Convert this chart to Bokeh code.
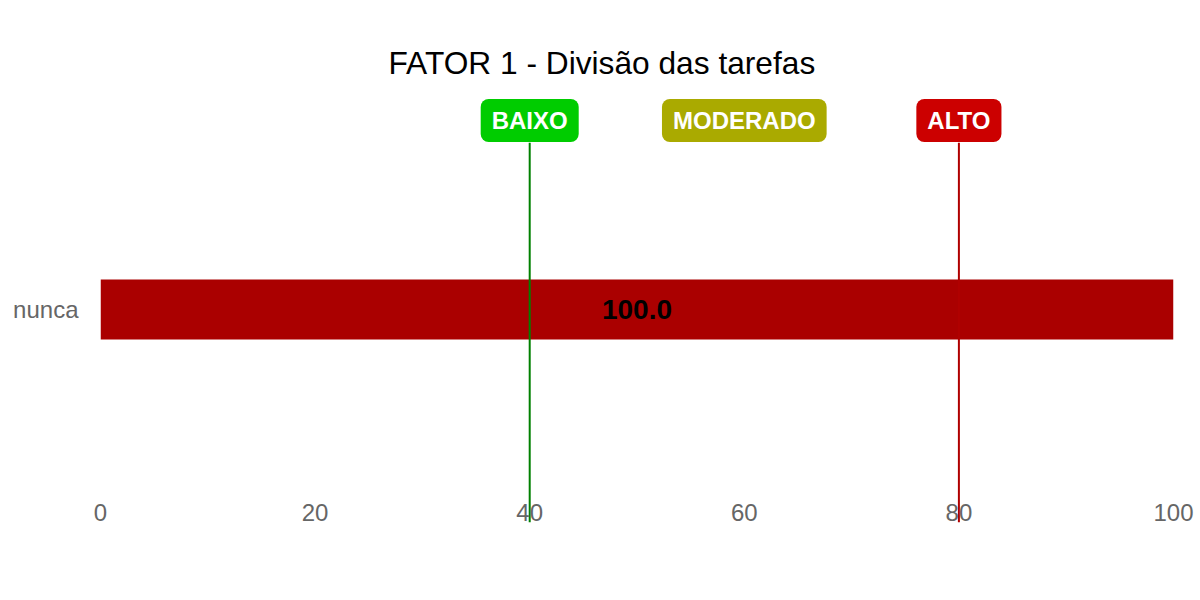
from bokeh.plotting import figure
from bokeh.models import ColumnDataSource, FixedTicker, Range1d
from bokeh.embed import file_html
from bokeh.resources import INLINE
from bokeh.core.properties import value

# ---- data ----
title = "FATOR 1 - Divisão das tarefas"
categories = ["nunca"]
values = [100.0]
x_ticks = [0, 20, 40, 60, 80, 100]
level_names = ["BAIXO", "MODERADO", "ALTO"]
level_positions = [40, 60, 80]
level_colors = ["#00CC00", "#AAAA00", "#CC0000"]
line_positions = [40, 80]
line_colors = ["#008000", "#B00000"]
bar_color = "#AA0000"

FONT = "Liberation Sans"
Y_LO, Y_HI = -3.55, 3.55
BOX_Y = 3.15
LINE_TOP = 2.78

p = figure(width=1200, height=600, output_backend="svg", toolbar_location=None,
           x_range=Range1d(0, 100), y_range=Range1d(Y_LO, Y_HI),
           min_border_left=100, min_border_right=27, min_border_top=96, min_border_bottom=78,
           title=title)
p.outline_line_color = None
p.xgrid.visible = False
p.ygrid.visible = False
p.title.align = "left"
p.title.offset = 288
p.title.standoff = 31
p.title.text_font = FONT
p.title.text_font_size = "31.7px"
p.title.text_font_style = "normal"
p.title.text_color = "#000000"

ypos = list(range(len(categories)))
bars = ColumnDataSource(dict(y=ypos, v=values, mid=[v / 2 for v in values],
                             lab=[f"{v:.1f}" for v in values]))
p.hbar(y="y", left=0, right="v", height=1.0, source=bars, fill_color=bar_color, line_color=None)

lines = ColumnDataSource(dict(x=line_positions, c=line_colors))
p.segment(x0="x", x1="x", y0=Y_LO, y1=LINE_TOP, line_color="c", line_width=2, source=lines)

p.text(x="mid", y="y", text="lab", source=bars, text_align="center", text_baseline="middle",
       text_font=value(FONT), text_font_size="28px", text_font_style="bold", text_color="#000000")

levels = ColumnDataSource(dict(x=level_positions, t=level_names, c=level_colors))
p.text(x="x", y=BOX_Y, text="t", source=levels, text_align="center", text_baseline="middle",
       text_font=value(FONT), text_font_size="24px", text_font_style="bold", text_color="#FFFFFF",
       background_fill_color="c", border_radius=8, padding=(11, 8))

p.xaxis.ticker = FixedTicker(ticks=x_ticks)
p.xaxis.axis_line_color = None
p.xaxis.major_tick_line_color = None
p.xaxis.minor_tick_line_color = None
p.xaxis.major_label_text_font = FONT
p.xaxis.major_label_text_font_size = "24px"
p.xaxis.major_label_text_color = "#666666"
p.xaxis.major_label_standoff = -25

p.yaxis.ticker = FixedTicker(ticks=ypos)
p.yaxis.major_label_overrides = {i: c for i, c in zip(ypos, categories)}
p.yaxis.axis_line_color = None
p.yaxis.major_tick_line_color = None
p.yaxis.minor_tick_line_color = None
p.yaxis.major_label_text_font = FONT
p.yaxis.major_label_text_font_size = "24px"
p.yaxis.major_label_text_color = "#666666"
p.yaxis.major_label_standoff = 16

open("out.html", "w").write(file_html(p, INLINE))
